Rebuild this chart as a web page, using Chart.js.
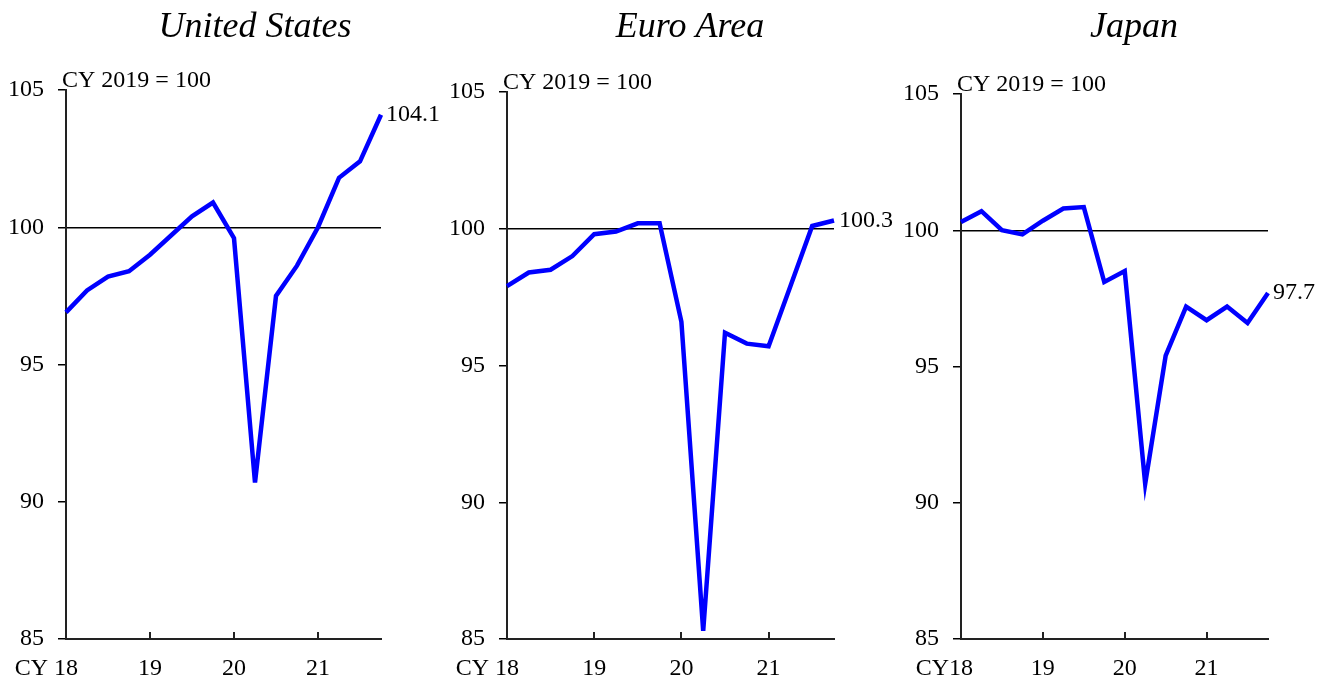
<!DOCTYPE html>
<html>
<head>
<meta charset="utf-8">
<script src="https://cdn.jsdelivr.net/npm/chart.js@4.4.1/dist/chart.umd.min.js"></script>
<style>
  html, body { margin: 0; padding: 0; background: #fff; }
  #wrap { position: relative; width: 1331px; height: 684px; overflow: hidden; }
  canvas { position: absolute; top: 0; }
</style>
</head>
<body>
<div id="wrap">
  <canvas id="us" width="480" height="684" style="left:0px"></canvas>
  <canvas id="ea" width="480" height="684" style="left:443px"></canvas>
  <canvas id="jp" width="445" height="684" style="left:886px"></canvas>
</div>
<script>
// quarterly, 2018Q1 .. 2021Q4
const quarters = ['18Q1', '18Q2', '18Q3', '18Q4', '19Q1', '19Q2', '19Q3', '19Q4',
                  '20Q1', '20Q2', '20Q3', '20Q4', '21Q1', '21Q2', '21Q3', '21Q4'];
const yearLabels = ['18', '19', '20', '21'];

const usValues = [96.9, 97.7, 98.2, 98.4, 99.0, 99.7, 100.4, 100.9, 99.6, 90.7, 97.5, 98.6, 100.0, 101.8, 102.4, 104.1];
const euroValues = [97.9, 98.4, 98.5, 99.0, 99.8, 99.9, 100.2, 100.2, 96.6, 85.3, 96.2, 95.8, 95.7, 97.9, 100.1, 100.3];
const japanValues = [100.3, 100.7, 100.0, 99.85, 100.35, 100.8, 100.85, 98.1, 98.5, 90.7, 95.4, 97.2, 96.7, 97.2, 96.6, 97.7];

const yMin = 85, yMax = 105, yStep = 5, baseLine = 100;

const SERIF = "'Liberation Serif', 'Times New Roman', serif";
Chart.defaults.font.family = SERIF;
Chart.defaults.font.size = 24;
Chart.defaults.color = '#000';

// canvas-relative layout of each panel
const panels = [
    { id: 'us', title: 'United States', values: usValues, cy: 'CY ', axisW: 66, padTop: 90, padRight: 99, titleX: 255 },
    { id: 'ea', title: 'Euro Area', values: euroValues, cy: 'CY ', axisW: 64, padTop: 92, padRight: 89, titleX: 247 },
    { id: 'jp', title: 'Japan', values: japanValues, cy: 'CY', axisW: 75, padTop: 94, padRight: 63, titleX: 248 }
];

const X_PAD = 15;

// titles, base note, inside x ticks, CY prefix and end label
const decor = {
    id: 'decor',
    afterDraw(chart, args, opts) {
        const ctx = chart.ctx;
        const area = chart.chartArea;
        const xs = chart.scales.x;
        ctx.save();

        // title
        ctx.fillStyle = '#000';
        ctx.font = 'italic 36px ' + SERIF;
        ctx.textAlign = 'center';
        ctx.textBaseline = 'alphabetic';
        ctx.fillText(opts.title, opts.titleX, 37);

        // note
        ctx.font = '24px ' + SERIF;
        ctx.textAlign = 'left';
        ctx.fillText('CY 2019 = 100', area.left - 4, area.top - 3);

        // inside ticks on x axis at each year
        ctx.strokeStyle = '#222';
        ctx.lineWidth = 2;
        quarters.forEach((q, i) => {
            if (i % 4 !== 0) return;
            const px = Math.round(xs.getPixelForValue(i));
            ctx.beginPath();
            ctx.moveTo(px, area.bottom);
            ctx.lineTo(px, area.bottom - 7);
            ctx.stroke();
        });

        // CY prefix left of first year label
        const first = xs.getPixelForValue(0);
        const w = ctx.measureText(yearLabels[0]).width;
        ctx.textAlign = 'right';
        ctx.textBaseline = 'middle';
        ctx.fillText(opts.cy, first - w / 2, xs.top + X_PAD + 24 * 1.2 / 2);

        // end value label
        const meta = chart.getDatasetMeta(0);
        const last = meta.data[meta.data.length - 1];
        const vals = chart.data.datasets[0].data;
        ctx.textAlign = 'left';
        ctx.fillText(vals[vals.length - 1].toFixed(1), last.x + 5, last.y);

        ctx.restore();
    }
};

panels.forEach(p => {
    new Chart(document.getElementById(p.id), {
        type: 'line',
        data: {
            labels: quarters,
            datasets: [{
                data: p.values,
                borderColor: '#0000ff',
                borderWidth: 4.5,
                pointRadius: 0,
                tension: 0,
                clip: false
            }]
        },
        options: {
            responsive: false,
            animation: false,
            layout: { padding: { top: p.padTop, right: p.padRight, left: 0, bottom: 0 } },
            plugins: {
                legend: { display: false },
                tooltip: { enabled: false },
                decor: { title: p.title, titleX: p.titleX, cy: p.cy }
            },
            scales: {
                x: {
                    grid: { display: false, drawTicks: false },
                    border: { display: true, color: '#222', width: 2 },
                    ticks: {
                        autoSkip: false,
                        maxRotation: 0,
                        padding: X_PAD,
                        callback: (v, i) => (i % 4 === 0 ? yearLabels[i / 4] : null)
                    },
                    afterFit: s => { s.height = 45; }
                },
                y: {
                    min: yMin,
                    max: yMax,
                    ticks: { stepSize: yStep, padding: 14 },
                    grid: {
                        color: c => (c.tick && c.tick.value === baseLine ? '#000' : 'rgba(0,0,0,0)'),
                        lineWidth: 1.5,
                        drawTicks: true,
                        tickLength: 8,
                        tickColor: '#000',
                        tickWidth: 1.5
                    },
                    border: { display: true, color: '#222', width: 2 },
                    afterFit: s => { s.width = p.axisW; }
                }
            }
        },
        plugins: [decor]
    });
});
</script>
</body>
</html>
